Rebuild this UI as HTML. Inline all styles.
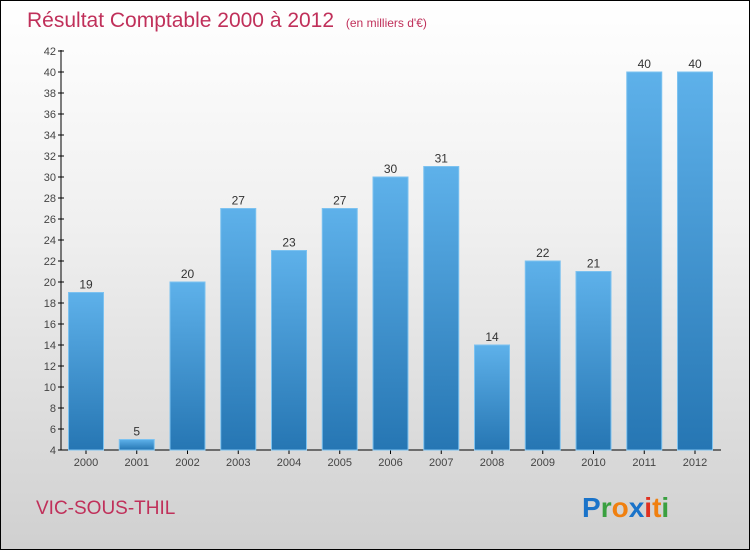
<!DOCTYPE html>
<html><head><meta charset="utf-8"><style>
body{margin:0;width:750px;height:550px;overflow:hidden;font-family:"Liberation Sans",sans-serif}
#wrap{position:absolute;left:0;top:0;width:748px;height:548px;border:1px solid #000;background:linear-gradient(#fff 0%,#f0f0f0 40%,#d0d0d0 100%)}
</style></head><body>
<div id="wrap">
<svg width="750" height="550" style="position:absolute;left:-1px;top:-1px">
<defs><linearGradient id="bg" x1="0" y1="0" x2="0" y2="1"><stop offset="0" stop-color="#5eb1ea"/><stop offset="1" stop-color="#2676b3"/></linearGradient></defs>
<text x="27" y="27" font-size="21" fill="#c0305a">Résultat Comptable 2000 à 2012 <tspan font-size="12" dx="6">(en milliers d'€)</tspan></text>
<g id="axes"></g><g id="bars"></g>
<text x="36" y="514" font-size="19" fill="#c0305a">VIC-SOUS-THIL</text>
<g font-size="28" font-weight="bold" font-family="Liberation Sans, sans-serif">
<text x="582" y="517"><tspan fill="#1a73c9">P</tspan><tspan fill="#3aa040">r</tspan><tspan fill="#f08010">o</tspan><tspan fill="#1a73c9">x</tspan><tspan fill="#e03020">i</tspan><tspan fill="#f08010">t</tspan><tspan fill="#3aa040">i</tspan></text></g>
</svg></div>
<script>
const years=["2000","2001","2002","2003","2004","2005","2006","2007","2008","2009","2010","2011","2012"];
const values=[19,5,20,27,23,27,30,31,14,22,21,40,40];
const yTicks=[4,6,8,10,12,14,16,18,20,22,24,26,28,30,32,34,36,38,40,42];
const NS="http://www.w3.org/2000/svg";
const y=v=>450-(v-4)*10.5;
const x=i=>86+i*50.75;
const ax=document.getElementById('axes'),bg=document.getElementById('bars');
function mk(t,a,p){const e=document.createElementNS(NS,t);for(const k in a)e.setAttribute(k,a[k]);p.appendChild(e);return e;}
const yl=mk('line',{x1:61,y1:50,x2:61,y2:450,stroke:'#000'},ax);


const xl=mk('line',{x1:61,y1:450,x2:721,y2:450,stroke:'#000'},ax);


yTicks.forEach(v=>{mk('line',{x1:58,x2:64,y1:y(v),y2:y(v),stroke:'#000'},ax);
const t=mk('text',{x:56,y:y(v)+4,'font-size':11,fill:'#444','text-anchor':'end'},ax);t.textContent=v;

});
years.forEach((yr,i)=>{const cx=x(i);
const r=mk('rect',{x:cx-17.5,y:y(values[i]),width:35,height:450-y(values[i]),fill:'url(#bg)',stroke:'#7cc2f0','stroke-width':1},bg);


const l=mk('text',{x:cx,y:y(values[i])-4,'font-size':12,fill:'#333','text-anchor':'middle'},bg);l.textContent=values[i];


mk('line',{x1:cx,x2:cx,y1:450,y2:454,stroke:'#000'},ax);
const t=mk('text',{x:cx,y:466,'font-size':11,fill:'#444','text-anchor':'middle'},ax);t.textContent=yr;

});
</script>
</body></html>
